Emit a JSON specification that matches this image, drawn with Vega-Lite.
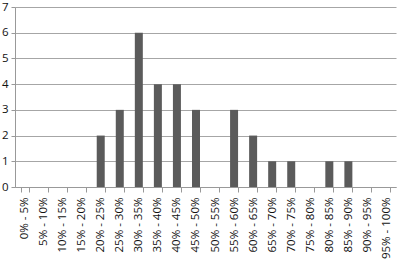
{
  "$schema": "https://vega.github.io/schema/vega-lite/v6.json",
  "autosize": {"type": "none"},
  "width": 381,
  "height": 180,
  "padding": {"left": 15, "top": 7, "right": 3, "bottom": 73},
  "background": "white",
  "config": {"view": {"stroke": null}, "font": "Open Sans"},
  "data": {"values": [
    {"range": "0% - 5%", "count": 0},
    {"range": "5% - 10%", "count": 0},
    {"range": "10% - 15%", "count": 0},
    {"range": "15% - 20%", "count": 0},
    {"range": "20% - 25%", "count": 2},
    {"range": "25% - 30%", "count": 3},
    {"range": "30% - 35%", "count": 6},
    {"range": "35% - 40%", "count": 4},
    {"range": "40% - 45%", "count": 4},
    {"range": "45% - 50%", "count": 3},
    {"range": "50% - 55%", "count": 0},
    {"range": "55% - 60%", "count": 3},
    {"range": "60% - 65%", "count": 2},
    {"range": "65% - 70%", "count": 1},
    {"range": "70% - 75%", "count": 1},
    {"range": "75% - 80%", "count": 0},
    {"range": "80% - 85%", "count": 1},
    {"range": "85% - 90%", "count": 1},
    {"range": "90% - 95%", "count": 0},
    {"range": "95% - 100%", "count": 0}
  ]},
  "mark": {"type": "bar", "color": "#5b5b5b"},
  "encoding": {
    "x": {
      "field": "range", "type": "nominal", "sort": null,
      "scale": {"paddingInner": 0.58, "paddingOuter": 0.29},
      "axis": {
        "title": null, "labelAngle": -90, "labelAlign": "right", "labelBaseline": "middle",
        "labelFontSize": 11.5, "labelColor": "#111", "labelPadding": 5,
        "domainColor": "#999", "tickColor": "#999", "tickSize": 5, "tickBand": "extent",
        "grid": false, "labelOverlap": false
      }
    },
    "y": {
      "field": "count", "type": "quantitative",
      "scale": {"domain": [0, 7], "nice": false},
      "axis": {
        "title": null, "values": [0,1,2,3,4,5,6,7],
        "labelFontSize": 11.5, "labelColor": "#111", "labelPadding": 3,
        "labelOverlap": false, "labelFlush": false,
        "domainColor": "#999", "tickColor": "#999", "tickSize": 4,
        "gridColor": "#a6a6a6", "gridWidth": 1.2
      }
    }
  }
}
